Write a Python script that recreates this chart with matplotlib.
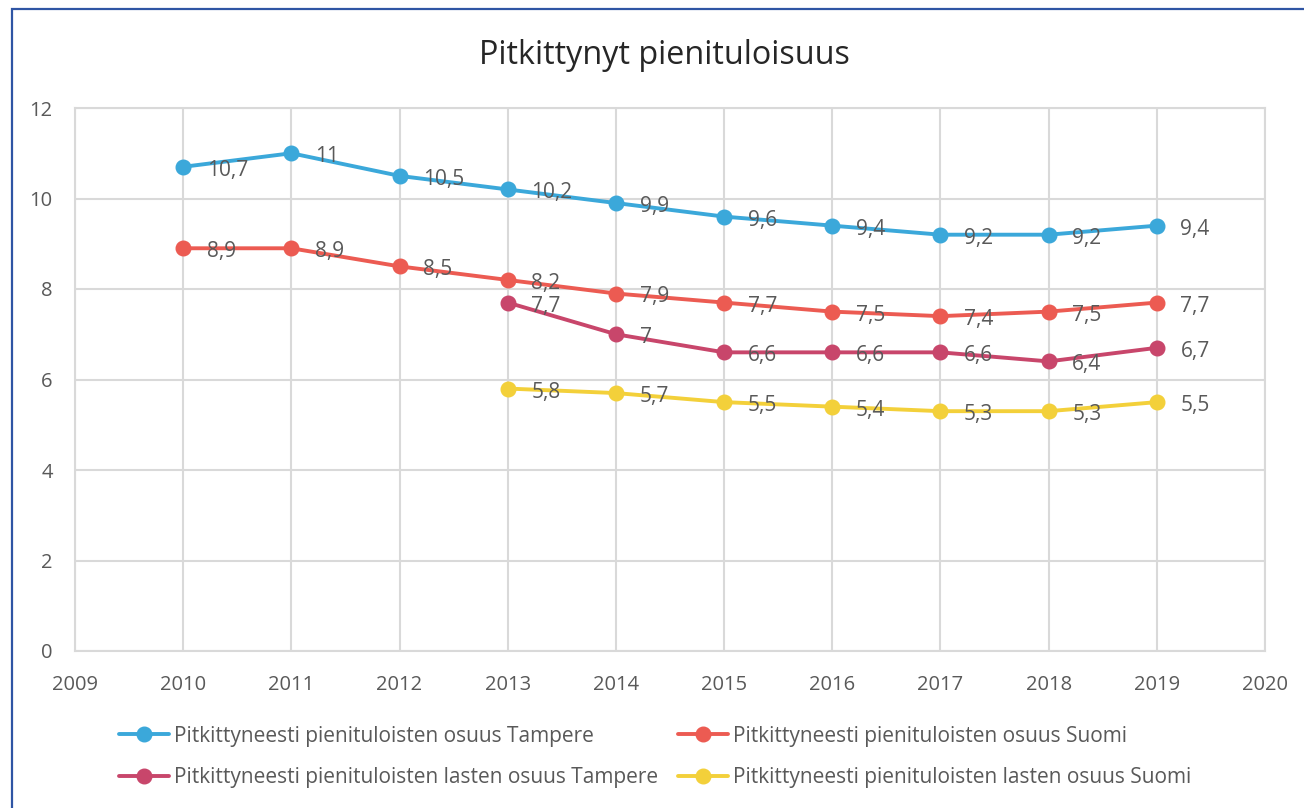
import matplotlib.pyplot as plt
from matplotlib.patches import Rectangle

plt.rcParams['font.family'] = ['Open Sans', 'DejaVu Sans']

# data
years = [2010, 2011, 2012, 2013, 2014, 2015, 2016, 2017, 2018, 2019]
years_kids = [2013, 2014, 2015, 2016, 2017, 2018, 2019]
tampere = [10.7, 11, 10.5, 10.2, 9.9, 9.6, 9.4, 9.2, 9.2, 9.4]
suomi = [8.9, 8.9, 8.5, 8.2, 7.9, 7.7, 7.5, 7.4, 7.5, 7.7]
lapset_tampere = [7.7, 7, 6.6, 6.6, 6.6, 6.4, 6.7]
lapset_suomi = [5.8, 5.7, 5.5, 5.4, 5.3, 5.3, 5.5]

names = ['Pitkittyneesti pienituloisten osuus Tampere',
         'Pitkittyneesti pienituloisten osuus Suomi',
         'Pitkittyneesti pienituloisten lasten osuus Tampere',
         'Pitkittyneesti pienituloisten lasten osuus Suomi']
colors = ['#3BA8DA', '#EC5B52', '#C8466B', '#F3D03A']
series = [(years, tampere), (years, suomi),
          (years_kids, lapset_tampere), (years_kids, lapset_suomi)]

txt = '#595959'
grid = '#D9D9D9'

fig = plt.figure(figsize=(13.04, 8.08), dpi=100)
ax = fig.add_axes([75/1304, 1 - 651/808, (1265-75)/1304, (651-108)/808])

lines = []
for (x, y), c, n in zip(series, colors, names):
    l, = ax.plot(x, y, color=c, lw=2.8, marker='o', ms=10.5, label=n, zorder=3,
                 solid_capstyle='round')
    lines.append(l)

for (x, y), c in zip(series, colors):
    for xi, yi in zip(x, y):
        s = ('%g' % yi).replace('.', ',')
        ax.annotate(s, (xi, yi), xytext=(17, -2.5), textcoords='offset points',
                    ha='left', va='center', fontsize=15, color=txt, zorder=5)

ax.set_xlim(2009, 2020)
ax.set_ylim(0, 12)
ax.set_xticks(range(2009, 2021))
ax.set_yticks(range(0, 13, 2))
ax.grid(True, color=grid, lw=1.5)
ax.set_axisbelow(True)
for sp in ax.spines.values():
    sp.set_color(grid)
    sp.set_linewidth(1.5)
ax.tick_params(length=0, colors=txt, labelsize=14.5)
ax.tick_params(axis='y', pad=16)
ax.tick_params(axis='x', pad=17)

fig.text(664/1304, 1 - 55/808, 'Pitkittynyt pienituloisuus', ha='center',
         va='center', fontsize=23.3, color='#262626')

# Excel fills the legend row by row
order = [0, 2, 1, 3]
fig.legend([lines[i] for i in order], [names[i] for i in order],
           loc='center left', bbox_to_anchor=(119/1304, 1 - 757/808), ncol=2,
           frameon=False, fontsize=15, labelcolor=txt, handlelength=2.4,
           handletextpad=0.25, columnspacing=0.95, labelspacing=1.0,
           borderpad=0, borderaxespad=0)

# outer chart border (cut at right and bottom)
fig.patches.append(Rectangle((12/1304, -0.1), 1.2, 1 - 9/808 + 0.1,
                             transform=fig.transFigure, fill=False,
                             edgecolor='#2F55A4', lw=1.6))

fig.savefig('out.png', dpi=100)
